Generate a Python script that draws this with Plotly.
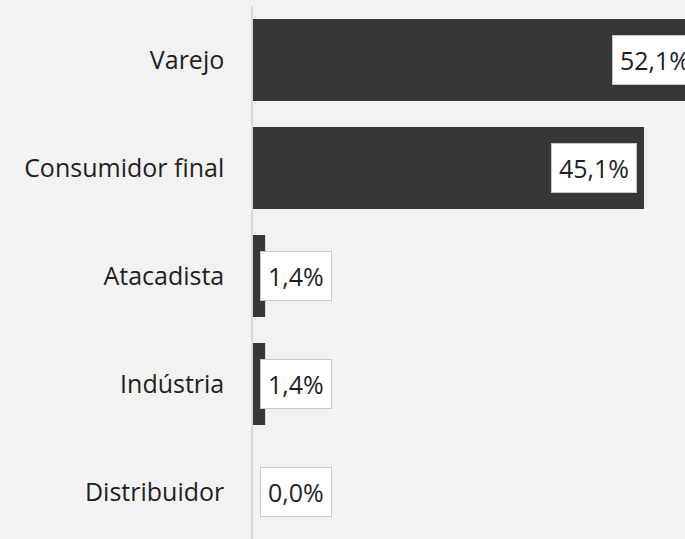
import plotly.graph_objects as go

# dados do gráfico
canais = ['Varejo', 'Consumidor final', 'Atacadista', 'Indústria', 'Distribuidor']
percentuais = [52.1, 45.1, 1.4, 1.4, 0.0]
rotulos = ['52,1%', '45,1%', '1,4%', '1,4%', '0,0%']

FONTE = 'Open Sans'
FUNDO = '#f2f2f2'
X_MAX = 49.83  # escala do eixo x, a barra do varejo passa da borda

fig = go.Figure()
fig.add_trace(go.Bar(
    x=percentuais,
    y=canais,
    orientation='h',
    marker=dict(color='#373737', line=dict(width=0)),
    hoverinfo='skip',
))

# rótulos com caixa branca
# (em 'paper' para não sumir quando o valor passa do fim do eixo)
for canal, valor, rotulo in zip(canais, percentuais, rotulos):
    if valor > 10:
        fig.add_annotation(x=valor / X_MAX, y=canal, xref='paper', yref='y', text=rotulo,
                           showarrow=False, xanchor='right', xshift=-7)
    else:
        fig.add_annotation(x=0, y=canal, xref='paper', yref='y', text=rotulo,
                           showarrow=False, xanchor='left', xshift=7)

fig.update_annotations(
    font=dict(family=FONTE, size=25, color='#1f1f1f'),
    bgcolor='white',
    bordercolor='#c8c8c8',
    borderwidth=1,
    borderpad=7,
)

fig.update_layout(
    width=685,
    height=539,
    margin=dict(l=253, r=0, t=6, b=0),
    paper_bgcolor=FUNDO,
    plot_bgcolor=FUNDO,
    bargap=0.24,
    showlegend=False,
    font=dict(family=FONTE, size=25, color='#1f1f1f'),
    xaxis=dict(range=[0, X_MAX], showgrid=False, zeroline=False,
               showticklabels=False, showline=False),
    yaxis=dict(categoryorder='array', categoryarray=canais,
               range=[4.435, -0.5], showgrid=False, zeroline=False,
               showline=True, linecolor='#d9d9d9', linewidth=1.5,
               ticks='', ticklabelstandoff=22),
)

# tira a margem branca da página
fig.write_html('out.html', config={'displayModeBar': False}, post_script=(
    "document.body.style.margin='0';"
    "document.body.style.overflow='hidden';"
    f"document.body.style.background='{FUNDO}';"
))
